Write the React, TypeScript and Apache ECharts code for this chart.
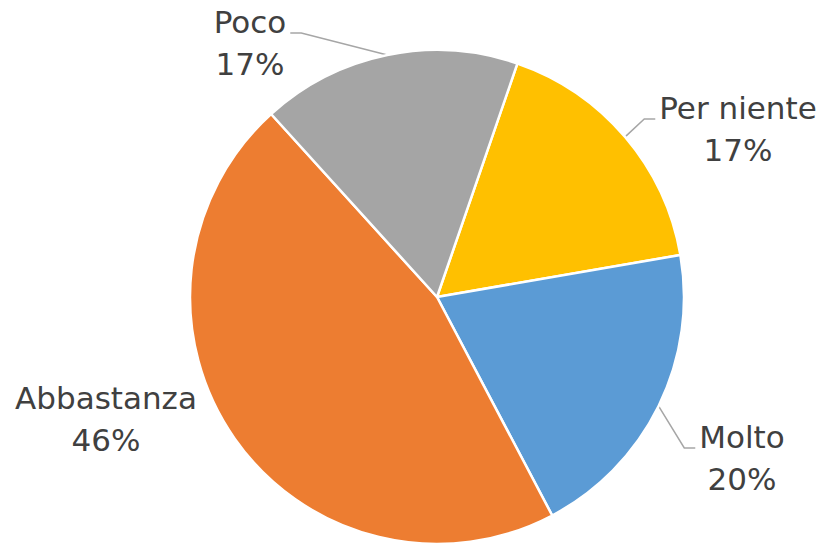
import React, { useEffect, useRef } from "react";
import * as echarts from "echarts";

// ---- data ----
const categories = ["Per niente", "Molto", "Abbastanza", "Poco"];
const values = [17, 20, 46, 17];

// ---- styling ----
const colors = ["#FFC000", "#5B9BD5", "#ED7D31", "#A5A5A5"];
// label block centres (layout styling)
const labelAnchors: number[][] = [
  [738, 129],
  [742, 458],
  [106, 419],
  [250, 43],
];
const labelSide = [1, 1, -1, -1];
const showLine = [true, true, false, true];

export default function App() {
  const ref = useRef<HTMLDivElement>(null);

  useEffect(() => {
    if (!ref.current) return;
    const chart = echarts.init(ref.current, null, { renderer: "svg" });
    const font = "DejaVu Sans";
    chart.setOption({
      animation: false,
      backgroundColor: "#ffffff",
      series: [
        {
          type: "pie",
          center: [437, 297],
          radius: 247,
          startAngle: 71,
          clockwise: true,
          avoidLabelOverlap: false,
          itemStyle: { borderColor: "#ffffff", borderWidth: 2.5 },
          label: {
            show: true,
            position: "outside",
            formatter: (p: any) => `{c|${p.name}}\n{c|${Math.round(p.percent)}%}`,
            rich: {
              c: {
                align: "center",
                fontSize: 31,
                lineHeight: 42,
                color: "#404040",
                fontFamily: font,
              },
            },
          },
          labelLine: {
            show: true,
            length: 20,
            length2: 10,
            lineStyle: { color: "#A6A6A6", width: 1.5 },
          },
          labelLayout: (p: any) => {
            const i = p.dataIndex;
            const [x, y] = labelAnchors[i];
            const w = p.labelRect.width;
            const side = labelSide[i];
            const endX = x - side * (w / 2 + 4);
            const lineY = y - 10;
            const elbowX = endX - side * 11;
            const start =
              p.labelLinePoints && p.labelLinePoints[0]
                ? p.labelLinePoints[0]
                : [elbowX, lineY];
            return {
              x,
              y,
              align: "center",
              verticalAlign: "middle",
              labelLinePoints: [start, [elbowX, lineY], [endX, lineY]],
            };
          },
          data: categories.map((name, i) => ({
            name,
            value: values[i],
            itemStyle: { color: colors[i] },
            labelLine: { show: showLine[i] },
          })),
        },
      ],
    });
    return () => chart.dispose();
  }, []);

  return (
    <div
      ref={ref}
      style={{ position: "absolute", left: 0, top: 0, width: 824, height: 546 }}
    />
  );
}
